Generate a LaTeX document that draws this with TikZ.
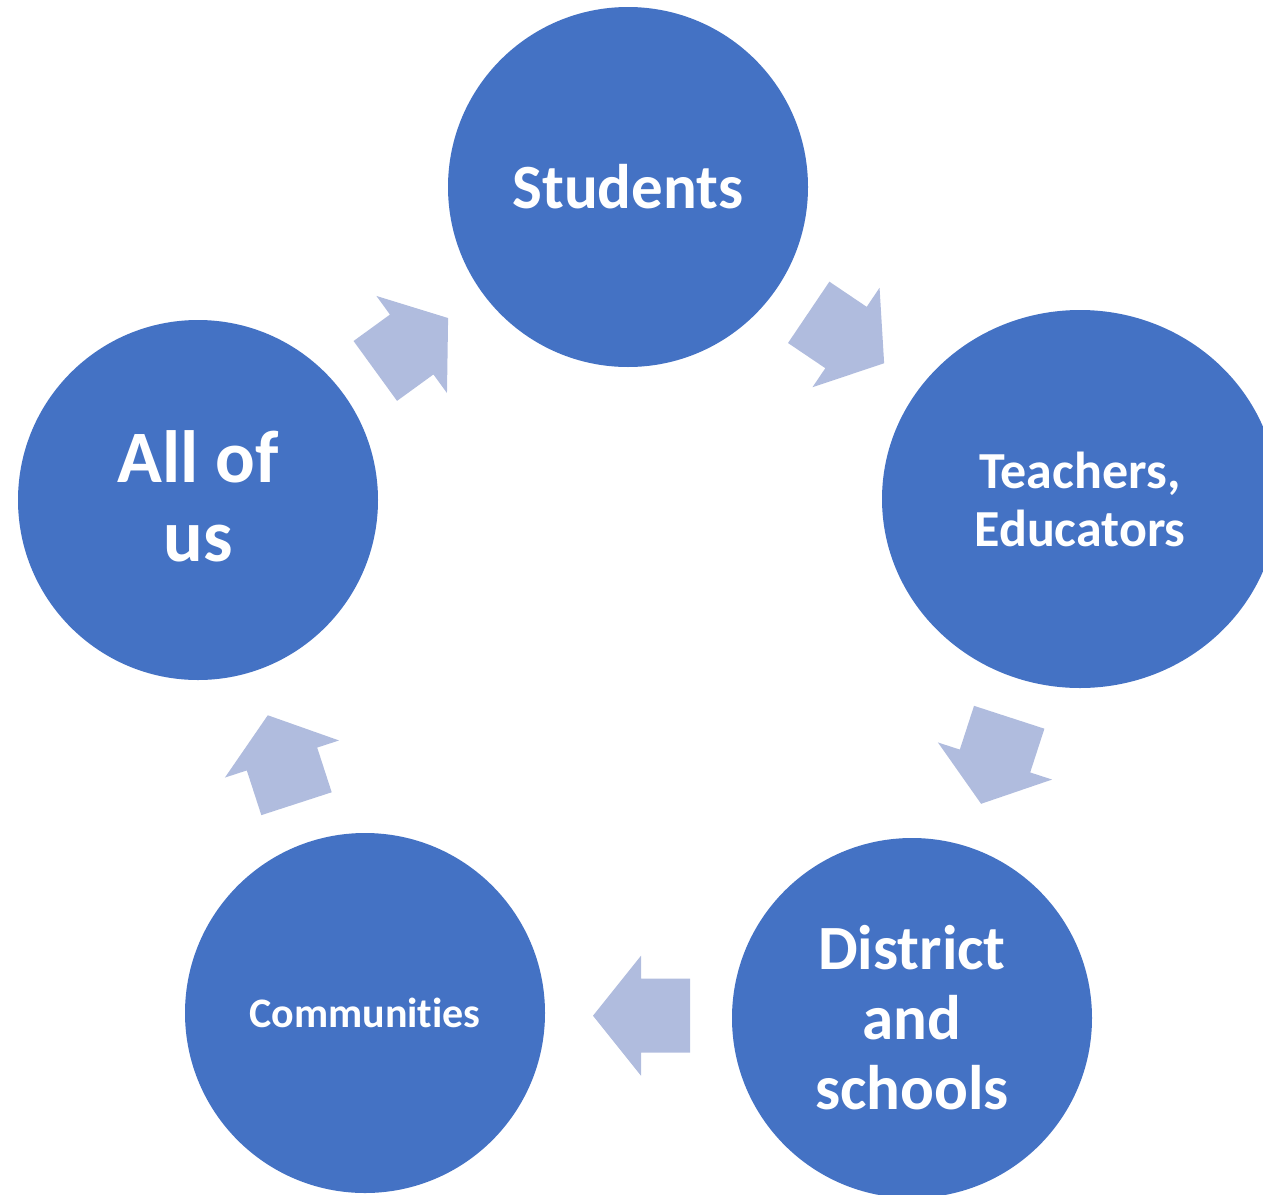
\documentclass[tikz,border=0pt]{standalone}
\usepackage{fontspec}
\setmainfont{Carlito}[Ligatures=CommonOff]
\usetikzlibrary{shapes.geometric}
\definecolor{circblue}{RGB}{68,114,196}
\definecolor{arrblue}{RGB}{176,188,222}
\newcommand\cyclearrow[5]{%
  \fill[cyc, shift={(#1,#2)}, rotate=#3] (-#4,-37) -- (0,-37) -- (0,-60) -- (#5,0) -- (0,60) -- (0,37) -- (-#4,37) -- cycle;}
\begin{document}
\begin{tikzpicture}[x=1pt,y=-1pt,
  disc/.style={circle, fill=circblue, inner sep=0pt, minimum size=360pt, text=white, align=center},
  oval/.style={ellipse, fill=circblue, inner sep=0pt, minimum width=396pt, minimum height=378pt, text=white, align=center},
  cyc/.style={fill=arrblue}]
\useasboundingbox (0,0) rectangle (1263,1194);
\clip (0,0) rectangle (1263,1194);
\node[disc, font=\bfseries\fontsize{63}{70}\selectfont] (students) at (628,187) {Students};
\node[oval, font=\bfseries\fontsize{52}{58}\selectfont] (teachers) at (1080,499) {Teachers,\\Educators};
\node[disc, font=\bfseries\fontsize{63}{70}\selectfont] (district) at (912,1018) {District\\and\\schools};
\node[disc, font=\bfseries\fontsize{42}{48}\selectfont] (communities) at (365,1013) {Communities};
\node[disc, minimum size=360pt, fill=circblue] (allofus) at (198,500) {};
\node[text=white, align=center, font=\bfseries\fontsize{74}{79}\selectfont] (allofustext) at (198,496) {All of\\us};
\cyclearrow{846}{337.5}{-34}{45}{46}
\cyclearrow{995}{761}{-108}{46}{45}
\cyclearrow{641}{1015.7}{180}{49}{48}
\cyclearrow{282}{759}{108}{47}{46}
\cyclearrow{411.7}{344.5}{36}{45}{45}
\end{tikzpicture}
\end{document}
